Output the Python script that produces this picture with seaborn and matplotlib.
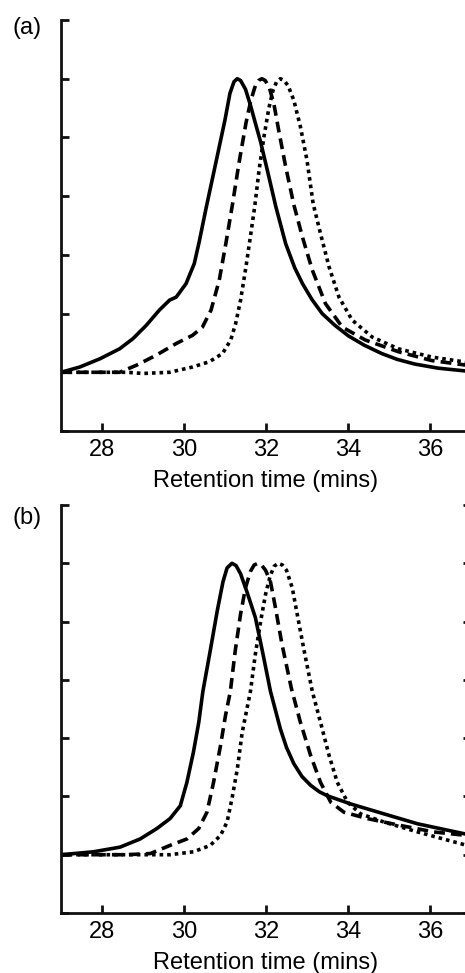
import numpy as np
import pandas as pd
import matplotlib
matplotlib.use("Agg")
import matplotlib.pyplot as plt
import seaborn as sns

# ---------------- data ----------------
# Panel (a)
a_solid_t = [27.0, 27.46, 27.95, 28.43, 28.75, 29.08, 29.40, 29.65, 29.81, 30.05, 30.25, 30.37,
             30.54, 30.78, 31.00, 31.12, 31.22, 31.30, 31.38, 31.50, 31.62, 31.75, 31.87, 32.07,
             32.24, 32.48, 32.70, 32.89, 33.12, 33.37, 33.68, 34.01, 34.40, 34.82, 35.20, 35.63,
             36.20, 36.9]
a_solid_v = [0.0, 0.09, 0.23, 0.40, 0.57, 0.80, 1.06, 1.23, 1.28, 1.51, 1.85, 2.22,
             2.80, 3.58, 4.30, 4.75, 4.95, 5.0, 4.97, 4.82, 4.55, 4.22, 3.92, 3.33,
             2.82, 2.19, 1.78, 1.51, 1.24, 1.0, 0.80, 0.62, 0.46, 0.32, 0.22, 0.14,
             0.07, 0.02]

a_dash_t = [27.0, 28.43, 28.84, 29.32, 29.81, 30.21, 30.45, 30.66, 30.86, 31.02, 31.18, 31.34,
            31.51, 31.63, 31.74, 31.82, 31.90, 31.98, 32.08, 32.19, 32.31, 32.48, 32.68, 32.89,
            33.13, 33.45, 33.86, 34.42, 35.23, 36.04, 36.9]
a_dash_v = [0.0, 0.0, 0.12, 0.29, 0.49, 0.63, 0.77, 1.06, 1.57, 2.19, 2.85, 3.56,
            4.24, 4.63, 4.88, 4.97, 5.0, 4.97, 4.85, 4.58, 4.12, 3.50, 2.85, 2.30,
            1.74, 1.17, 0.77, 0.55, 0.35, 0.20, 0.12]

a_dot_t = [27.0, 28.6, 29.0, 29.65, 30.21, 30.62, 30.94, 31.14, 31.26, 31.38, 31.51, 31.63,
           31.73, 31.83, 31.95, 32.07, 32.17, 32.26, 32.35, 32.44, 32.54, 32.68, 32.84, 33.0,
           33.15, 33.33, 33.54, 33.78, 34.10, 34.59, 35.23, 36.04, 36.9]
a_dot_v = [0.0, 0.0, -0.02, 0.0, 0.09, 0.18, 0.32, 0.55, 0.83, 1.23, 1.79, 2.36,
           2.85, 3.44, 4.01, 4.50, 4.80, 4.95, 5.0, 4.97, 4.88, 4.63, 4.18, 3.61,
           2.87, 2.36, 1.79, 1.28, 0.89, 0.60, 0.40, 0.26, 0.17]

# Panel (b)
b_solid_t = [27.0, 27.79, 28.44, 28.93, 29.34, 29.66, 29.91, 30.07, 30.23, 30.36, 30.46, 30.64,
             30.81, 30.95, 31.05, 31.17, 31.27, 31.38, 31.54, 31.74, 31.91, 32.11, 32.35, 32.50,
             32.68, 32.88, 33.09, 33.30, 33.50, 34.07, 34.88, 35.70, 36.9]
b_solid_v = [0.0, 0.05, 0.13, 0.27, 0.45, 0.62, 0.84, 1.24, 1.76, 2.27, 2.80, 3.50,
             4.18, 4.68, 4.92, 5.0, 4.96, 4.82, 4.50, 4.07, 3.50, 2.80, 2.16, 1.84,
             1.56, 1.34, 1.19, 1.08, 1.01, 0.87, 0.70, 0.53, 0.35]

b_dash_t = [27.0, 28.6, 29.18, 29.66, 30.07, 30.36, 30.56, 30.72, 30.89, 31.01, 31.13, 31.25,
            31.38, 31.50, 31.62, 31.71, 31.80, 31.89, 31.99, 32.11, 32.23, 32.39, 32.62, 32.84,
            33.09, 33.33, 33.58, 33.90, 34.47, 35.29, 36.10, 36.9]
b_dash_v = [0.0, 0.0, 0.02, 0.16, 0.27, 0.45, 0.73, 1.24, 1.87, 2.38, 2.80, 3.50,
            4.13, 4.58, 4.86, 4.97, 5.0, 4.97, 4.88, 4.68, 4.24, 3.61, 2.85, 2.27,
            1.70, 1.24, 0.90, 0.73, 0.62, 0.50, 0.39, 0.33]

b_dot_t = [27.0, 28.8, 29.66, 30.23, 30.64, 30.89, 31.05, 31.17, 31.30, 31.42, 31.62, 31.74,
           31.87, 31.99, 32.10, 32.20, 32.30, 32.40, 32.50, 32.64, 32.76, 32.93, 33.13, 33.33,
           33.54, 33.74, 33.99, 34.31, 34.88, 35.70, 36.9]
b_dot_v = [0.0, 0.0, 0.0, 0.05, 0.16, 0.33, 0.56, 0.96, 1.47, 2.10, 2.80, 3.44,
           4.01, 4.47, 4.78, 4.95, 5.0, 4.97, 4.88, 4.58, 4.13, 3.50, 2.80, 2.27,
           1.70, 1.24, 0.90, 0.70, 0.56, 0.39, 0.16]

x_ticks = [28, 30, 32, 34, 36]
x_label = "Retention time (mins)"
panel_labels = ["(a)", "(b)"]


def long_frame(series):
    rows = []
    for name, ts, vs in series:
        for t, v in zip(ts, vs):
            rows.append({"t": t, "v": v, "series": name})
    return pd.DataFrame(rows)


df_a = long_frame([("solid", a_solid_t, a_solid_v),
                   ("dashed", a_dash_t, a_dash_v),
                   ("dotted", a_dot_t, a_dot_v)])
df_b = long_frame([("solid", b_solid_t, b_solid_v),
                   ("dashed", b_dash_t, b_dash_v),
                   ("dotted", b_dot_t, b_dot_v)])

# ---------------- style ----------------
sns.set_style("ticks")
plt.rcParams["font.family"] = ["Liberation Sans", "DejaVu Sans"]
plt.rcParams["text.color"] = "black"
plt.rcParams["axes.labelcolor"] = "black"
plt.rcParams["xtick.labelcolor"] = "black"
plt.rcParams["lines.solid_capstyle"] = "round"
plt.rcParams["lines.solid_joinstyle"] = "round"
plt.rcParams["lines.dash_capstyle"] = "butt"
plt.rcParams["lines.dash_joinstyle"] = "round"

W, H = 465, 973
fig = plt.figure(figsize=(W / 100, H / 100), dpi=100)

dash_map = {"solid": "", "dashed": (3.0, 1.7), "dotted": (1.0, 1.1)}
lw = 2.6


def panel(rect, df, label, label_y, right_ticks):
    ax = fig.add_axes(rect)
    sns.lineplot(data=df, x="t", y="v", style="series", dashes=dash_map,
                 color="black", linewidth=lw, estimator=None, sort=False,
                 legend=False, ax=ax)
    ax.set_xlim(27, 37)
    ax.set_ylim(-1, 6)
    ax.set_xticks(x_ticks)
    ax.set_yticks(range(-1, 7))
    ax.set_yticklabels([])
    ax.set_xlabel(x_label, fontsize=17, labelpad=6.5, color="black")
    ax.set_ylabel("")
    for s in ["top", "right"]:
        ax.spines[s].set_visible(False)
    for s in ["left", "bottom"]:
        ax.spines[s].set_linewidth(2.0)
        ax.spines[s].set_color("#111111")
    ax.tick_params(axis="both", direction="in", length=5.5, width=2.0,
                   color="#111111", labelcolor="black", labelsize=17, pad=6)
    if right_ticks:
        ax.tick_params(axis="y", right=True)
    fig.text(27 / W, 1 - label_y / H, label, fontsize=17, ha="center", va="center",
             color="black")
    return ax


left = 61 / W
width = 410 / W
panel([left, (H - 431) / H, width, 411 / H], df_a, panel_labels[0], 28, False)
panel([left, (H - 913) / H, width, 408 / H], df_b, panel_labels[1], 518, True)

fig.savefig("out.png", dpi=100)
